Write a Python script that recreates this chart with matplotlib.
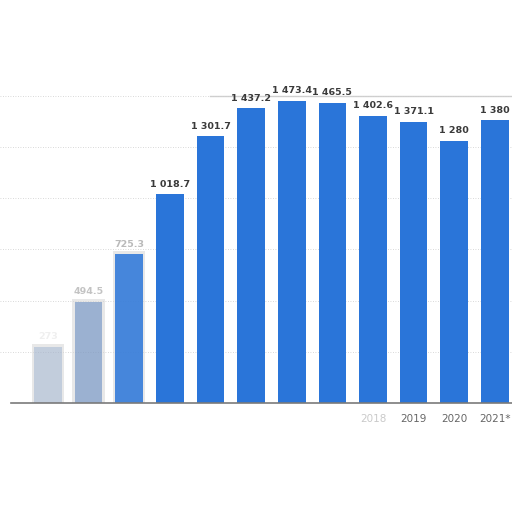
import numpy as np
import matplotlib.pyplot as plt

years = ['2010', '2011', '2012', '2013', '2014', '2015', '2016', '2017',
         '2018', '2019', '2020', '2021*']
values = [273, 494.5, 725.3, 1018.7, 1301.7, 1437.2, 1473.4, 1465.5,
          1402.6, 1371.1, 1280, 1380]
# how visible each column is (the left side of the source fades out)
bar_alpha = [0.22, 0.45, 0.85, 1, 1, 1, 1, 1, 1, 1, 1, 1]
label_alpha = [0.08, 0.3, 0.35, 1, 1, 1, 1, 1, 1, 1, 1, 1]
tick_alpha = [0, 0, 0, 0, 0, 0, 0, 0, 0.35, 1, 1, 1]


def fmt(v):
    s = '{:,.1f}'.format(v) if v != int(v) else '{:,.0f}'.format(v)
    return s.replace(',', ' ')


fig = plt.figure(figsize=(5.12, 5.12), dpi=100)
ax = fig.add_axes([0, 109 / 512, 1, 363 / 512])

x = np.arange(len(years))
for i in range(len(years)):
    col = '#2a75d9'
    if bar_alpha[i] < 1:
        # blurred grey halo of the faded columns
        ax.bar(x[i], values[i] + 15, width=0.8, color='#d6d6d6',
               alpha=0.55, zorder=1)
        if bar_alpha[i] < 0.5:
            col = '#3f6fb5'
    ax.bar(x[i], values[i], width=0.68, color=col,
           alpha=bar_alpha[i], zorder=2)
    ax.annotate(fmt(values[i]), (x[i], values[i]), xytext=(0, 4),
                textcoords='offset points', ha='center', va='bottom',
                fontsize=6.8, fontweight='bold', color='#3a3a3a',
                alpha=label_alpha[i])

ax.set_xlim(-1.18, 11.42)
ax.set_ylim(0, 1771)
ax.set_yticks([250, 500, 750, 1000, 1250, 1500])
ax.yaxis.grid(True, linestyle=(0, (1, 2)), color='#cccccc', linewidth=0.6)
ax.set_axisbelow(True)
ax.tick_params(axis='y', left=False, labelleft=False)
ax.tick_params(axis='x', length=0, pad=8, labelsize=7.5, labelcolor='#666666')
ax.set_xticks(x)
ax.set_xticklabels(years)
for lab, a in zip(ax.get_xticklabels(), tick_alpha):
    lab.set_alpha(a)

for side in ['top', 'right', 'left']:
    ax.spines[side].set_visible(False)
ax.spines['bottom'].set_color('#7a7a7a')
ax.spines['bottom'].set_linewidth(1.2)
ax.spines['bottom'].set_bounds(-0.9, 11.42)

# the light frame line along the top of the right part
ax.plot([4.0, 11.42], [1500, 1500], color='#d0d0d0', linewidth=1, zorder=0)

fig.savefig('out.png', dpi=100)
